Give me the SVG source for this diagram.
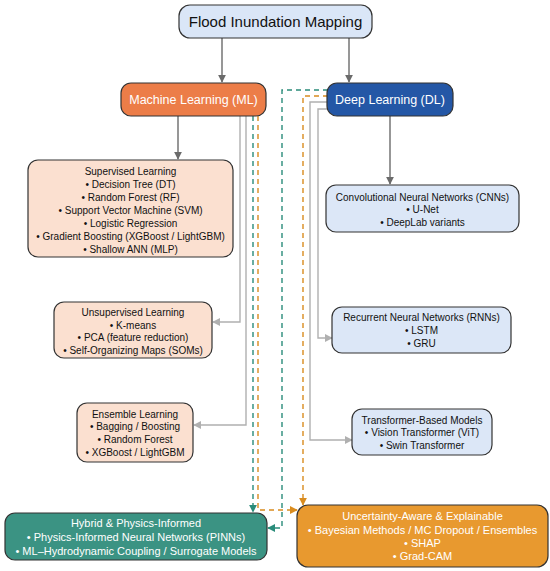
<svg xmlns="http://www.w3.org/2000/svg" width="550" height="571" viewBox="0 0 550 571">
<defs>
<style>
text{font-family:"Liberation Sans",Arial,sans-serif;text-anchor:middle}
.box{stroke:#333;stroke-width:1.2}
.t10{font-size:10px;fill:#111}
.t11{font-size:11px;fill:#fff}
.dark{fill:none;stroke:#6b6b6b;stroke-width:1.4}
.gray{fill:none;stroke:#b0b0b0;stroke-width:1.4}
.teal{fill:none;stroke:#2a8c7a;stroke-width:1.4;stroke-dasharray:5 4}
.orng{fill:none;stroke:#d98c1f;stroke-width:1.4;stroke-dasharray:5 4}
</style>
<marker id="aDark" viewBox="0 0 10 10" refX="9" refY="5" markerWidth="8" markerHeight="8" markerUnits="userSpaceOnUse" orient="auto"><path d="M0,0L10,5L0,10z" fill="#6b6b6b"/></marker>
<marker id="aGray" viewBox="0 0 10 10" refX="9" refY="5" markerWidth="8" markerHeight="8" markerUnits="userSpaceOnUse" orient="auto"><path d="M0,0L10,5L0,10z" fill="#b0b0b0"/></marker>
<marker id="aTeal" viewBox="0 0 10 10" refX="9" refY="5" markerWidth="8" markerHeight="8" markerUnits="userSpaceOnUse" orient="auto"><path d="M0,0L10,5L0,10z" fill="#2a8c7a"/></marker>
<marker id="aOrng" viewBox="0 0 10 10" refX="9" refY="5" markerWidth="8" markerHeight="8" markerUnits="userSpaceOnUse" orient="auto"><path d="M0,0L10,5L0,10z" fill="#d98c1f"/></marker>
</defs>
<rect width="550" height="571" fill="#fff"/>
<g id="connectors">
<path class="dark" d="M222,38V82" marker-end="url(#aDark)"/>
<path class="dark" d="M349,38V82" marker-end="url(#aDark)"/>
<path class="dark" d="M178,116V159" marker-end="url(#aDark)"/>
<path class="dark" d="M390,116V184" marker-end="url(#aDark)"/>
<path class="gray" d="M240,116V322H213" marker-end="url(#aGray)"/>
<path class="gray" d="M246,116V425H194" marker-end="url(#aGray)"/>
<path class="gray" d="M328,109H318V338H332" marker-end="url(#aGray)"/>
<path class="gray" d="M328,102H310V440H352" marker-end="url(#aGray)"/>
<path class="teal" d="M253,116V512" marker-end="url(#aTeal)"/>
<path class="teal" d="M328,90H282V528H268" marker-end="url(#aTeal)"/>
<path class="orng" d="M258,116V510H297" marker-end="url(#aOrng)"/>
<path class="orng" d="M328,96H303V505" marker-end="url(#aOrng)"/>
</g>
<g id="root">
<rect class="box" x="179" y="5" width="193" height="33" rx="11" fill="#dae6f7"/>
<text x="275.5" y="27" style="font-size:15px;fill:#111">Flood Inundation Mapping</text>
</g>
<g id="ml">
<rect class="box" x="121" y="83" width="145" height="33" rx="10" fill="#ec7d48"/>
<text x="193.5" y="104" style="font-size:12.5px;fill:#fff">Machine Learning (ML)</text>
</g>
<g id="dl">
<rect class="box" x="327" y="83" width="126" height="33" rx="10" fill="#2457a6"/>
<text x="390" y="104" style="font-size:12.5px;fill:#fff">Deep Learning (DL)</text>
</g>
<g id="supervised">
<rect class="box" x="28" y="160" width="205" height="97" rx="10" fill="#fbe0d0"/>
<text class="t10" x="130.5" y="174.5">Supervised Learning</text>
<text class="t10" x="130.5" y="187.5">• Decision Tree (DT)</text>
<text class="t10" x="130.5" y="200.5">• Random Forest (RF)</text>
<text class="t10" x="130.5" y="213.5">• Support Vector Machine (SVM)</text>
<text class="t10" x="130.5" y="226.5">• Logistic Regression</text>
<text class="t10" x="130.5" y="239.5">• Gradient Boosting (XGBoost / LightGBM)</text>
<text class="t10" x="130.5" y="252.5">• Shallow ANN (MLP)</text>
</g>
<g id="unsupervised">
<rect class="box" x="54" y="302" width="158" height="56" rx="10" fill="#fbe0d0"/>
<text class="t10" x="133" y="315.5">Unsupervised Learning</text>
<text class="t10" x="133" y="328.5">• K-means</text>
<text class="t10" x="133" y="341">• PCA (feature reduction)</text>
<text class="t10" x="133" y="353.5">• Self-Organizing Maps (SOMs)</text>
</g>
<g id="ensemble">
<rect class="box" x="77" y="403" width="116" height="59" rx="10" fill="#fbe0d0"/>
<text class="t10" x="135" y="417.5">Ensemble Learning</text>
<text class="t10" x="135" y="430">• Bagging / Boosting</text>
<text class="t10" x="135" y="443">• Random Forest</text>
<text class="t10" x="135" y="455.5">• XGBoost / LightGBM</text>
</g>
<g id="cnn">
<rect class="box" x="326" y="185" width="193" height="47" rx="10" fill="#dce7f7"/>
<text class="t10" x="422.5" y="200.5">Convolutional Neural Networks (CNNs)</text>
<text class="t10" x="422.5" y="213">• U-Net</text>
<text class="t10" x="422.5" y="225.5">• DeepLab variants</text>
</g>
<g id="rnn">
<rect class="box" x="332" y="307" width="179" height="46" rx="10" fill="#dce7f7"/>
<text class="t10" x="421.5" y="321">Recurrent Neural Networks (RNNs)</text>
<text class="t10" x="421.5" y="334">• LSTM</text>
<text class="t10" x="421.5" y="346.5">• GRU</text>
</g>
<g id="transformer">
<rect class="box" x="352" y="409" width="140" height="46" rx="10" fill="#dce7f7"/>
<text class="t10" x="422" y="423.5">Transformer-Based Models</text>
<text class="t10" x="422" y="436">• Vision Transformer (ViT)</text>
<text class="t10" x="422" y="448.5">• Swin Transformer</text>
</g>
<g id="hybrid">
<rect class="box" x="5" y="513" width="262" height="47" rx="10" fill="#3b9383"/>
<text class="t11" x="136" y="527">Hybrid &amp; Physics-Informed</text>
<text class="t11" x="136" y="541">• Physics-Informed Neural Networks (PINNs)</text>
<text class="t11" x="136" y="555">• ML–Hydrodynamic Coupling / Surrogate Models</text>
</g>
<g id="uncertainty">
<rect class="box" x="297" y="505" width="251" height="62" rx="11" fill="#e8992f"/>
<text class="t11" x="422.5" y="520">Uncertainty-Aware &amp; Explainable</text>
<text class="t11" x="422.5" y="533.5">• Bayesian Methods / MC Dropout / Ensembles</text>
<text class="t11" x="422.5" y="547">• SHAP</text>
<text class="t11" x="422.5" y="560">• Grad-CAM</text>
</g>
</svg>
